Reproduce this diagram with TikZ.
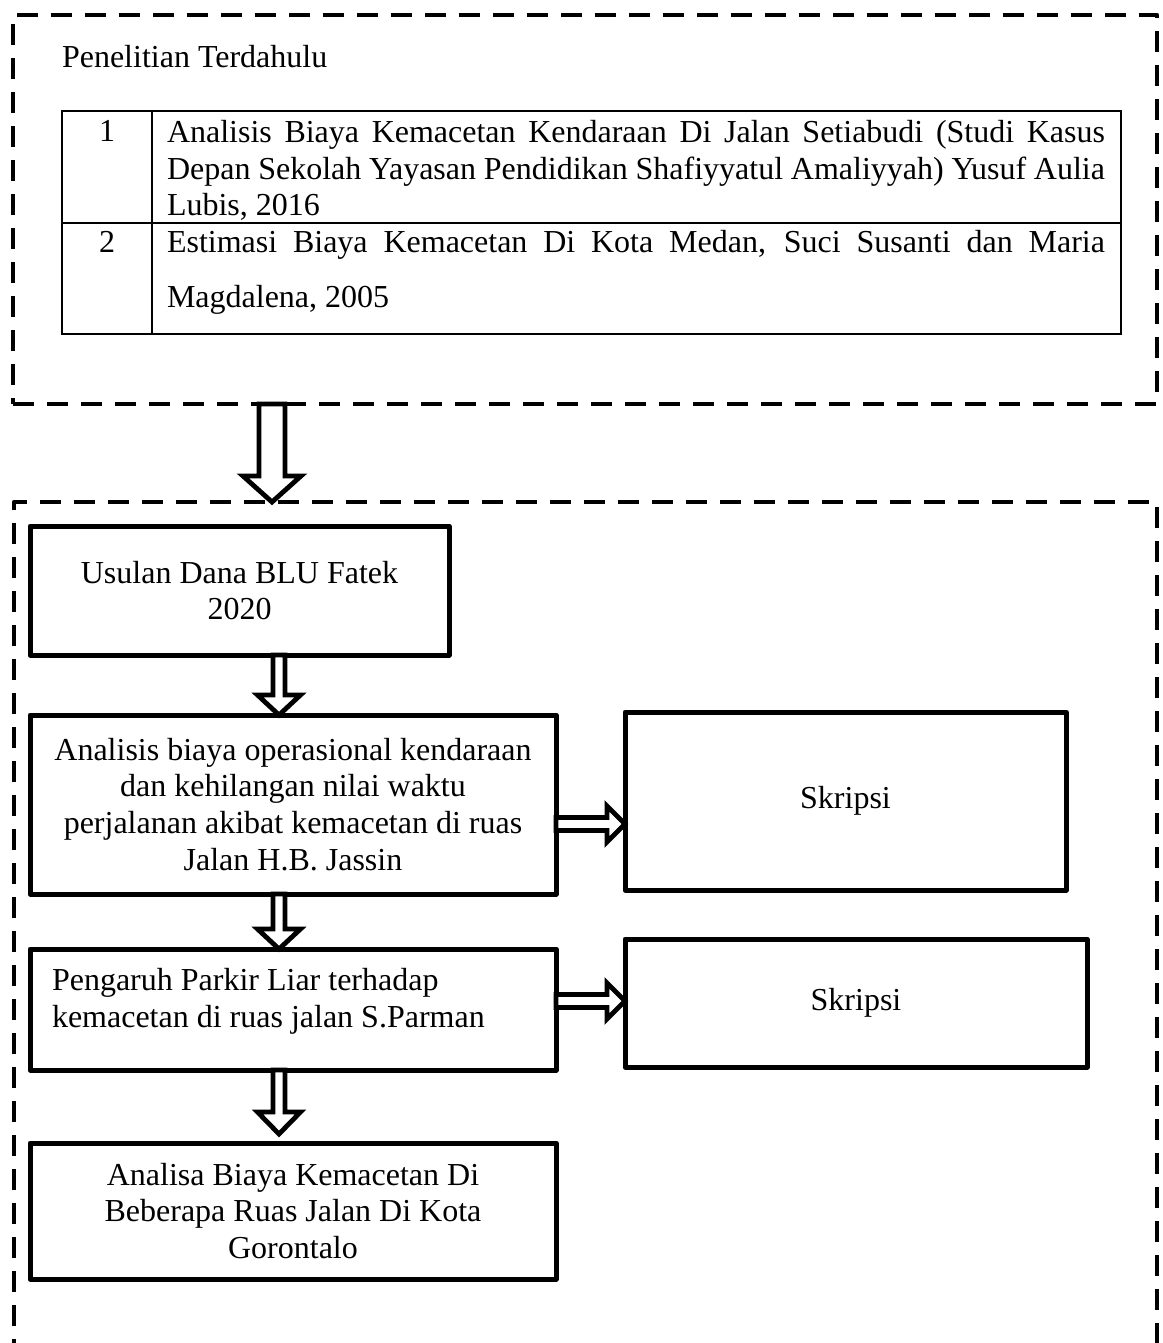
\documentclass[tikz,border=0pt]{standalone}
\usepackage{fontspec}
\setmainfont{Liberation Serif}
\usetikzlibrary{calc}
% block arrow pointing down: #1 start, #2 tip, #3 half shaft, #4 half head, #5 head length
\newcommand{\blkdown}[5]{%
  \draw[blockarrow] let \p1=(#1), \p2=(#2) in
    (\x2-#3,\y1) -- (\x2-#3,\y2+#5) -- (\x2-#4,\y2+#5) -- (\x2,\y2) --
    (\x2+#4,\y2+#5) -- (\x2+#3,\y2+#5) -- (\x2+#3,\y1) -- cycle;}
% block arrow pointing right
\newcommand{\blkright}[5]{%
  \draw[blockarrow] let \p1=(#1), \p2=(#2) in
    (\x1,\y2+#3) -- (\x2-#5,\y2+#3) -- (\x2-#5,\y2+#4) -- (\x2,\y2) --
    (\x2-#5,\y2-#4) -- (\x2-#5,\y2-#3) -- (\x1,\y2-#3) -- cycle;}
\begin{document}
\begin{tikzpicture}[x=1pt,y=-1pt,
  every node/.style={font=\fontsize{32}{36.8}\selectfont, inner sep=0pt, outer sep=0pt},
  dashbox/.style={draw, line width=4.8pt, line join=round, dash pattern=on 21pt off 13pt},
  flowbox/.style={draw, line width=5pt, line join=round, rectangle, align=center},
  tableline/.style={line width=2.5pt},
  blockarrow/.style={draw, fill=white, line width=4.8pt, line join=miter},
]
\useasboundingbox (0,0) rectangle (1162,1343);
\fill[white] (0,0) rectangle (1162,1343);

% ---------- top dashed box ----------
\node[dashbox, minimum width=1144pt, minimum height=389pt, anchor=north west] (topbox) at (13,15) {};
\node[anchor=base west] (title) at (62,68) {Penelitian Terdahulu};

% table
\draw[tableline] (62,111) rectangle (1121,334);
\draw[tableline] (152,111) -- (152,334);
\draw[tableline] (62,223) -- (1121,223);
\node[anchor=base] (n1) at (107,142) {1};
\node[anchor=base] (n2) at (107,252) {2};
\node[anchor=north west, text width=938pt, align=justify] (row1) at (167,120)
  {Analisis Biaya Kemacetan Kendaraan Di Jalan Setiabudi (Studi Kasus\linebreak
   Depan Sekolah Yayasan Pendidikan Shafiyyatul Amaliyyah) Yusuf Aulia\linebreak
   Lubis, 2016};
\node[anchor=north west, text width=938pt, align=justify, font=\fontsize{32}{55.2}\selectfont] (row2) at (167,230)
  {Estimasi Biaya Kemacetan Di Kota Medan, Suci Susanti dan Maria\linebreak
   Magdalena, 2005};

% ---------- flow boxes ----------
\node[flowbox, minimum width=419pt, minimum height=129pt] (usulan) at (239.5,590.5) {Usulan Dana BLU Fatek\\2020};
\node[flowbox, minimum width=526pt, minimum height=179pt] (analisis) at (293,804.5)
  {Analisis biaya operasional kendaraan\\dan kehilangan nilai waktu\\perjalanan akibat kemacetan di ruas\\Jalan H.B. Jassin};
\node[flowbox, minimum width=441pt, minimum height=178pt] (skripsi1) at (845.5,801) {Skripsi};
\node[flowbox, minimum width=526pt, minimum height=121pt] (pengaruh) at (293,1009.5) {};
\node[anchor=north west, align=left] (pengaruhtxt) at (52,968)
  {Pengaruh Parkir Liar terhadap\\kemacetan di ruas jalan S.Parman};
\node[flowbox, minimum width=462pt, minimum height=128pt] (skripsi2) at (856,1003) {Skripsi};
\node[flowbox, minimum width=526pt, minimum height=136pt] (analisa) at (293,1211)
  {Analisa Biaya Kemacetan Di\\Beberapa Ruas Jalan Di Kota\\Gorontalo};

% ---------- connectors ----------
\coordinate (bigx) at (272,0);
\coordinate (box2top) at (14,502);
\coordinate (box2tr) at (1157,502);
\coordinate (ax) at (279,0);
\coordinate (ry1) at (0,824);
\coordinate (ry2) at (0,1001);

\blkdown{topbox.south -| bigx}{bigx |- box2top}{13pt}{29pt}{26pt}
\blkdown{usulan.south -| ax}{analisis.north -| ax}{6pt}{21.5pt}{20pt}
\blkdown{analisis.south -| ax}{pengaruh.north -| ax}{6pt}{21.5pt}{20pt}
\blkdown{pengaruh.south -| ax}{$(analisa.north -| ax)+(0,-9)$}{6pt}{21.5pt}{22pt}
\blkright{analisis.east |- ry1}{skripsi1.west |- ry1}{6.5pt}{18pt}{18pt}
\blkright{pengaruh.east |- ry2}{skripsi2.west |- ry2}{6.5pt}{18pt}{18pt}

% ---------- lower dashed frame (open at the bottom) ----------
\draw[dashbox] (14,1360) -- (box2top) -- (box2tr) -- (1157,1360);
\end{tikzpicture}
\end{document}
